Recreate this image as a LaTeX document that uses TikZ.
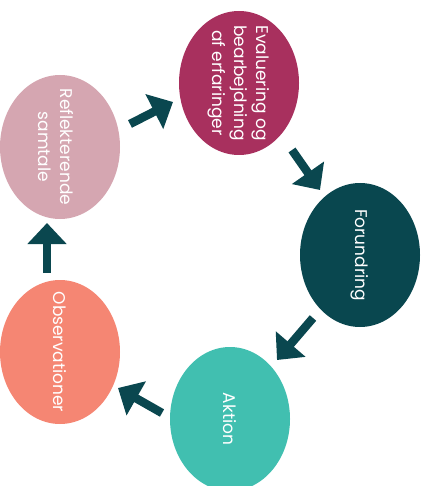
\documentclass[tikz,border=0pt]{standalone}
\usepackage{fontspec}
\setmainfont{Poppins}
\usetikzlibrary{shapes.geometric,arrows.meta}
\definecolor{cEval}{HTML}{A8305E}
\definecolor{cRefl}{HTML}{D5A6B1}
\definecolor{cForu}{HTML}{09474F}
\definecolor{cObs}{HTML}{F58673}
\definecolor{cAkt}{HTML}{41BFB0}
\definecolor{cArr}{HTML}{0A474F}
\tikzset{
  blob/.style={ellipse, draw=none, minimum width=120pt, minimum height=144pt, inner sep=0pt},
  blobtext/.style={rotate=-90, text=white, align=center, font=\fontsize{17}{22}\selectfont, inner sep=0pt},
  bigarrow/.style={draw=cArr, line width=8.5pt, -{Triangle[width=38pt,length=21pt]}}
}
\begin{document}
\begin{tikzpicture}[x=1pt,y=-1pt]
\useasboundingbox (0,0) rectangle (427,486);
\node[blob, fill=cEval] (eval) at (239,83) {};
\node[blob, fill=cRefl] (refl) at (60,147) {};
\node[blob, fill=cForu] (foru) at (360,255) {};
\node[blob, fill=cObs] (obs) at (60,352) {};
\node[blob, fill=cAkt] (akt) at (230,419) {};
\node[blobtext] (evalt) at (eval.center) {Evaluering og\\bearbejdning\\af erfaringer};
\node[blobtext] (reflt) at ([xshift=-4pt]refl.center) {Reflekterende\\samtale};
\node[blobtext] (forut) at (foru.center) {Forundring};
\node[blobtext] (obst) at (obs.center) {Observationer};
\node[blobtext] (aktt) at (akt.center) {Aktion};
\coordinate (a1) at (130,124);
\coordinate (a2) at (173,102);
\coordinate (b1) at (292,150);
\coordinate (b2) at (320,190);
\coordinate (c1) at (313,318);
\coordinate (c2) at (277,360);
\coordinate (d1) at (162,413);
\coordinate (d2) at (118,388);
\coordinate (e1) at (47,273);
\coordinate (e2) at (47,223);
\draw[bigarrow] (a1) -- (a2);
\draw[bigarrow] (b1) -- (b2);
\draw[bigarrow] (c1) -- (c2);
\draw[bigarrow] (d1) -- (d2);
\draw[bigarrow] (e1) -- (e2);
\end{tikzpicture}
\end{document}
